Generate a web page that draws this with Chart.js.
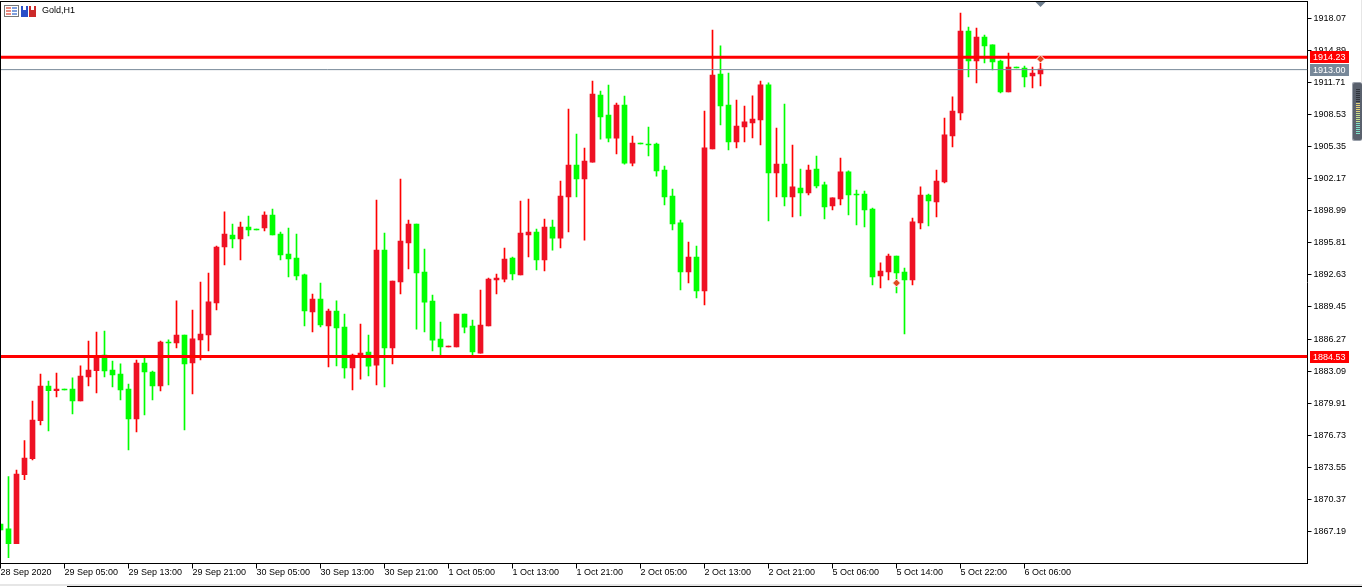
<!DOCTYPE html>
<html>
<head>
<meta charset="utf-8">
<title>Gold,H1</title>
<style>
  html, body { margin: 0; padding: 0; background: #fff; overflow: hidden; }
  canvas { display: block; }
</style>
<script src="https://cdn.jsdelivr.net/npm/chart.js@4/dist/chart.umd.min.js"></script>
</head>
<body>
<canvas id="goldChart" width="1362" height="587"></canvas>
<script>
// H1 bars, one entry per bar. close > open draws red here
var opens = [
  1867.92, 1867.43, 1865.97, 1872.82, 1874.40, 1878.17, 1881.61, 1881.15, 1881.31, 1881.31,
  1880.12, 1882.51, 1883.13, 1884.69, 1883.20, 1882.80, 1881.31, 1878.34, 1883.89, 1883.00,
  1881.61, 1885.98, 1885.88, 1886.67, 1883.89, 1886.18, 1886.67, 1889.85, 1895.40, 1896.59,
  1896.20, 1897.39, 1897.19, 1897.29, 1898.58, 1896.69, 1894.71, 1894.31, 1892.63, 1888.95,
  1890.24, 1887.57, 1889.05, 1887.46, 1883.40, 1884.45, 1884.98, 1883.69, 1895.10, 1885.38,
  1891.93, 1895.80, 1897.68, 1892.92, 1890.04, 1886.27, 1885.48, 1885.48, 1888.75, 1887.56,
  1884.88, 1887.56, 1892.13, 1892.22, 1894.31, 1892.62, 1896.59, 1896.89, 1894.11, 1897.38,
  1896.29, 1900.36, 1903.54, 1902.15, 1903.83, 1910.48, 1908.50, 1906.21, 1909.49, 1903.73,
  1905.72, 1905.62, 1905.62, 1903.04, 1900.46, 1897.79, 1892.92, 1894.41, 1891.04, 1905.13,
  1912.57, 1909.49, 1905.82, 1907.31, 1907.71, 1908.00, 1911.48, 1902.75, 1903.64, 1900.37,
  1901.26, 1900.76, 1903.14, 1901.56, 1899.47, 1900.17, 1902.85, 1900.66, 1900.66, 1899.17,
  1892.53, 1892.92, 1894.51, 1892.92, 1892.13, 1897.79, 1900.56, 1899.87, 1901.85, 1906.42,
  1908.70, 1916.83, 1913.86, 1916.24, 1915.45, 1913.86, 1910.78, 1913.26, 1913.16, 1912.37,
  1912.57
]
var closes = [
  1867.33, 1865.97, 1872.88, 1874.47, 1878.24, 1881.61, 1881.15, 1881.31, 1881.21, 1880.12,
  1882.60, 1883.20, 1884.49, 1883.10, 1882.70, 1881.22, 1878.34, 1883.89, 1883.00, 1881.61,
  1885.98, 1885.88, 1886.67, 1883.80, 1886.28, 1886.77, 1889.95, 1895.40, 1896.69, 1896.20,
  1897.39, 1897.09, 1897.09, 1898.58, 1896.59, 1894.61, 1894.21, 1892.53, 1889.05, 1890.24,
  1887.66, 1889.05, 1887.37, 1883.40, 1884.69, 1884.88, 1883.59, 1895.10, 1885.38, 1892.03,
  1896.00, 1897.68, 1892.82, 1889.94, 1886.17, 1885.48, 1885.58, 1888.75, 1887.46, 1884.98,
  1887.66, 1892.22, 1892.32, 1894.21, 1892.72, 1896.79, 1896.89, 1894.11, 1897.38, 1896.29,
  1900.46, 1903.54, 1902.15, 1903.93, 1910.58, 1908.30, 1906.21, 1909.49, 1903.73, 1905.72,
  1905.62, 1905.52, 1902.94, 1900.37, 1897.69, 1892.92, 1894.41, 1891.04, 1905.23, 1912.47,
  1909.39, 1905.82, 1907.41, 1907.81, 1908.10, 1911.48, 1902.75, 1903.64, 1900.37, 1901.36,
  1900.76, 1903.04, 1901.46, 1899.37, 1900.27, 1902.85, 1900.56, 1900.56, 1899.08, 1892.43,
  1893.02, 1894.51, 1892.83, 1892.13, 1897.89, 1900.56, 1899.97, 1901.95, 1906.52, 1908.90,
  1916.83, 1913.86, 1916.24, 1915.35, 1913.76, 1910.78, 1913.26, 1913.16, 1912.27, 1912.67,
  1913.06
]
var highs = [
  1867.92, 1872.62, 1873.28, 1876.19, 1880.12, 1882.80, 1882.11, 1882.90, 1881.31, 1882.41,
  1883.60, 1886.08, 1886.97, 1887.07, 1884.09, 1883.80, 1881.81, 1884.19, 1884.49, 1883.10,
  1886.08, 1886.18, 1890.05, 1886.67, 1889.15, 1891.93, 1892.82, 1895.50, 1898.88, 1897.68,
  1897.88, 1898.48, 1897.19, 1898.88, 1899.17, 1896.89, 1897.29, 1896.69, 1892.72, 1890.74,
  1891.83, 1889.25, 1890.05, 1888.75, 1884.78, 1887.76, 1886.67, 1900.06, 1896.79, 1892.03,
  1902.15, 1898.08, 1897.68, 1895.20, 1890.64, 1887.96, 1885.58, 1888.75, 1888.75, 1888.16,
  1891.13, 1892.32, 1892.72, 1895.30, 1894.41, 1899.96, 1900.16, 1897.19, 1898.18, 1898.08,
  1901.95, 1909.09, 1906.61, 1905.22, 1911.87, 1910.88, 1911.47, 1909.69, 1910.38, 1906.41,
  1905.72, 1907.31, 1905.72, 1903.44, 1901.16, 1898.08, 1895.90, 1895.50, 1908.90, 1916.93,
  1915.35, 1912.67, 1909.99, 1909.39, 1910.39, 1911.87, 1911.68, 1907.21, 1909.59, 1905.52,
  1903.14, 1903.54, 1904.43, 1901.85, 1900.27, 1904.23, 1902.95, 1901.06, 1900.96, 1899.27,
  1893.82, 1894.71, 1894.51, 1893.32, 1898.28, 1901.36, 1900.66, 1903.04, 1908.20, 1910.29,
  1918.62, 1917.23, 1917.13, 1916.44, 1915.45, 1913.96, 1914.65, 1913.26, 1913.36, 1913.26,
  1913.66
]
var lows = [
  1867.33, 1864.58, 1865.97, 1872.32, 1874.27, 1877.74, 1877.15, 1880.52, 1881.21, 1878.83,
  1880.12, 1881.61, 1880.92, 1882.51, 1881.51, 1880.22, 1875.26, 1877.05, 1878.74, 1880.22,
  1881.12, 1881.71, 1885.38, 1877.25, 1880.82, 1884.19, 1885.09, 1889.15, 1893.62, 1895.30,
  1894.11, 1896.49, 1897.09, 1896.99, 1896.59, 1894.11, 1892.43, 1892.13, 1887.57, 1886.97,
  1887.47, 1883.50, 1883.60, 1882.40, 1881.21, 1882.30, 1882.60, 1881.71, 1881.51, 1883.79,
  1890.74, 1893.22, 1887.26, 1886.97, 1885.08, 1884.59, 1885.48, 1885.48, 1886.87, 1884.59,
  1884.88, 1887.56, 1890.74, 1891.93, 1892.13, 1892.62, 1894.41, 1893.12, 1893.02, 1895.10,
  1895.30, 1896.89, 1900.36, 1896.09, 1903.83, 1906.11, 1905.82, 1904.63, 1903.63, 1903.44,
  1905.62, 1904.43, 1902.44, 1899.57, 1897.09, 1891.14, 1891.83, 1890.35, 1889.65, 1905.13,
  1907.51, 1905.03, 1905.23, 1905.82, 1906.22, 1905.52, 1897.98, 1900.37, 1899.47, 1898.38,
  1898.48, 1900.56, 1901.26, 1898.18, 1899.08, 1899.57, 1898.58, 1897.59, 1897.39, 1891.64,
  1891.34, 1892.13, 1890.84, 1886.77, 1891.64, 1897.19, 1897.49, 1898.38, 1901.75, 1905.33,
  1908.00, 1912.27, 1911.68, 1913.66, 1912.97, 1910.68, 1910.78, 1913.16, 1911.28, 1911.18,
  1911.38
]

var timeLabels = [
  '28 Sep 2020', '29 Sep 05:00', '29 Sep 13:00', '29 Sep 21:00', '30 Sep 05:00', '30 Sep 13:00',
  '30 Sep 21:00', '1 Oct 05:00', '1 Oct 13:00', '1 Oct 21:00', '2 Oct 05:00', '2 Oct 13:00',
  '2 Oct 21:00', '5 Oct 06:00', '5 Oct 14:00', '5 Oct 22:00', '6 Oct 06:00'
]
var priceTicks = [
  1918.07, 1914.89, 1911.71, 1908.53, 1905.35, 1902.17, 1898.99, 1895.81, 1892.63,
  1889.45, 1886.27, 1883.09, 1879.91, 1876.73, 1873.55, 1870.37, 1867.19
]
var redLevels = [1914.23, 1884.53]
var lastPrice = 1913.00
var tradeBars = [112, 130]
var tradePrices = [1891.83, 1914.05]

var BARS_PER_LABEL = 8
var UP_BODY = '#ee1124'
var UP_WICK = '#ff0000'
var DOWN = '#00ff00'
var GREY = '#778899'
var FONT = '9px "Liberation Sans", Arial, sans-serif'

function isUp(i) {
  return closes[i] > opens[i]
}

function levelLine(price, color, width) {
  return {
    type: 'line',
    order: 1,
    data: [{ x: 0, y: price }, { x: 163.375, y: price }],
    borderColor: color,
    borderWidth: width,
    pointRadius: 0
  }
}

// price tag on the right side of the axis
function priceTag(ctx, yScale, price, color) {
  var y = yScale.getPixelForValue(price)
  ctx.fillStyle = color
  ctx.fillRect(1310, Math.round(y) - 6, 39, 12)
  ctx.fillStyle = '#fff'
  ctx.font = FONT
  ctx.textAlign = 'left'
  ctx.textBaseline = 'middle'
  ctx.fillText(price.toFixed(2), 1313, Math.round(y) + 0.5)
}

function drawIcons(ctx) {
  // table icon
  ctx.fillStyle = '#777'
  ctx.fillRect(4, 5, 15, 12)
  ctx.fillStyle = '#fff'
  ctx.fillRect(5, 6, 13, 10)
  var rows = [7, 10, 13]
  rows.forEach(function (r) {
    ctx.fillStyle = '#e88a80'
    ctx.fillRect(6, r, 5, 2)
    ctx.fillStyle = '#7f9fdc'
    ctx.fillRect(12, r, 5, 2)
  })
  // blue / red floppies
  ctx.fillStyle = '#2a4fc8'
  ctx.fillRect(21, 6, 7, 11)
  ctx.fillStyle = '#cc2a2a'
  ctx.fillRect(29, 6, 7, 11)
  ctx.fillStyle = '#fff'
  ctx.fillRect(23, 5, 3, 5)
  ctx.fillRect(31, 5, 3, 5)
}

function drawScrollHandle(ctx) {
  ctx.fillStyle = '#9aa0aa'
  ctx.beginPath()
  ctx.roundRect(1352, 82, 10, 59, 2)
  ctx.fill()
  ctx.fillStyle = '#5a616d'
  ctx.beginPath()
  ctx.roundRect(1353, 83, 9, 57, 2)
  ctx.fill()
  for (var y = 89; y < 134; y += 2) {
    if (y < 103) ctx.fillStyle = '#30343c'
    else if (y < 113) ctx.fillStyle = '#e2d27a'
    else if (y < 123) ctx.fillStyle = '#c4e090'
    else ctx.fillStyle = '#7fe0c8'
    ctx.fillRect(1356, y, 4, 1)
  }
}

var mt5Frame = {
  id: 'mt5Frame',
  afterDraw: function (chart) {
    var ctx = chart.ctx
    var area = chart.chartArea
    var x = chart.scales.x
    var y = chart.scales.y
    ctx.save()

    // left + top border, chart.js only gives us the axis sides
    ctx.fillStyle = '#000'
    ctx.fillRect(0, 1, 1, 563)
    ctx.fillRect(0, 1, 1308, 1)

    // shift marker hanging from the top border
    var sx = x.getPixelForValue(130)
    ctx.fillStyle = '#6f7f8f'
    ctx.beginPath()
    ctx.moveTo(sx - 5, area.top + 0.5)
    ctx.lineTo(sx + 5, area.top + 0.5)
    ctx.lineTo(sx, area.top + 5.5)
    ctx.fill()

    priceTag(ctx, y, redLevels[0], '#ff0000')
    priceTag(ctx, y, lastPrice, GREY)
    priceTag(ctx, y, redLevels[1], '#ff0000')

    ctx.fillStyle = '#000'
    ctx.font = FONT
    ctx.textAlign = 'left'
    ctx.textBaseline = 'middle'
    ctx.fillText('Gold,H1', 42, 11)
    drawIcons(ctx)
    drawScrollHandle(ctx)

    // window edge at the bottom
    ctx.fillStyle = '#e6e6e6'
    ctx.fillRect(0, 584, 1362, 2)
    ctx.fillStyle = '#000'
    ctx.fillRect(67, 586, 1295, 1)
    ctx.fillStyle = '#e6e6e6'
    ctx.fillRect(1361, 0, 1, 82)
    ctx.restore()
  }
}

var wickData = highs.map(function (h, i) {
  return { x: i, y: [lows[i], h] }
})
var bodyData = opens.map(function (o, i) {
  return { x: i, y: [o, closes[i]] }
})
var tradeData = tradeBars.map(function (b, i) {
  return { x: b, y: tradePrices[i] }
})

new Chart(document.getElementById('goldChart'), {
  type: 'bar',
  data: {
    datasets: [
      {
        // bodies sit on the wicks
        order: 2,
        data: bodyData,
        barThickness: 5,
        minBarLength: 1,
        grouped: false,
        backgroundColor: function (c) {
          return isUp(c.dataIndex) ? UP_BODY : DOWN
        }
      },
      {
        order: 3,
        data: wickData,
        barThickness: 1,
        grouped: false,
        backgroundColor: function (c) {
          return isUp(c.dataIndex) ? UP_WICK : DOWN
        }
      },
      levelLine(redLevels[0], '#ff0000', 3),
      levelLine(redLevels[1], '#ff0000', 3),
      levelLine(lastPrice, GREY, 1),
      {
        type: 'scatter',
        order: 0,
        data: tradeData,
        pointStyle: 'rectRot',
        pointRadius: 4,
        backgroundColor: '#e04a20',
        borderColor: '#ffffff',
        borderWidth: 1
      }
    ]
  },
  plugins: [mt5Frame],
  options: {
    responsive: false,
    animation: false,
    events: [],
    layout: { autoPadding: false, padding: { left: 0.5, top: 1.5, right: 0, bottom: 0 } },
    plugins: { legend: { display: false }, tooltip: { enabled: false } },
    scales: {
      x: {
        type: 'linear',
        offset: false,
        min: 0,
        max: 163.375,
        afterFit: function (scale) {
          scale.height = 23.5
          scale.paddingLeft = 0
          scale.paddingRight = 0
        },
        afterBuildTicks: function (scale) {
          scale.ticks = timeLabels.map(function (t, k) {
            return { value: k * BARS_PER_LABEL }
          })
        },
        grid: { offset: false, drawOnChartArea: false, tickLength: 5, tickColor: '#000', tickWidth: 1 },
        border: { color: '#000', width: 1 },
        ticks: {
          align: 'start',
          autoSkip: false,
          maxRotation: 0,
          padding: -1,
          color: '#000',
          font: { family: '"Liberation Sans", Arial, sans-serif', size: 9 },
          callback: function (v) {
            return timeLabels[v / BARS_PER_LABEL]
          }
        }
      },
      y: {
        position: 'right',
        min: 1864.00,
        max: 1919.76,
        afterFit: function (scale) {
          // tick labels must not push the plot area down from the top border
          scale.width = 54.5
          scale.paddingTop = 0
          scale.paddingBottom = 0
        },
        afterBuildTicks: function (scale) {
          scale.ticks = priceTicks.map(function (p) {
            return { value: p }
          })
        },
        grid: { drawOnChartArea: false, tickLength: 4, tickColor: '#000', tickWidth: 1 },
        border: { color: '#000', width: 1 },
        ticks: {
          padding: 2,
          color: '#000',
          font: { family: '"Liberation Sans", Arial, sans-serif', size: 9 },
          callback: function (v) {
            return v.toFixed(2)
          }
        }
      }
    }
  }
})
</script>
</body>
</html>
